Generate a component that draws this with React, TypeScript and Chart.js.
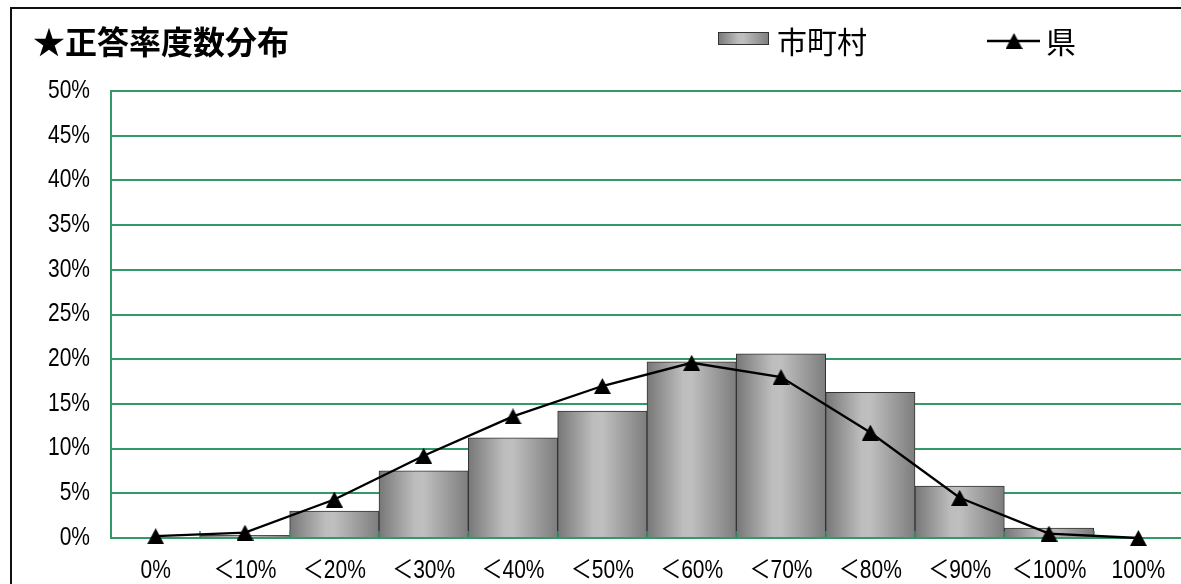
import React, { useEffect, useRef } from "react";
import { Chart, registerables } from "chart.js";

Chart.register(...registerables);

// 正答率の区分
const categories = [
  "0%", "＜10%", "＜20%", "＜30%", "＜40%", "＜50%",
  "＜60%", "＜70%", "＜80%", "＜90%", "＜100%", "100%",
];

// 市町村の分布（%）
const cityValues = [0, 0.3, 3.0, 7.5, 11.2, 14.2, 19.7, 20.6, 16.3, 5.8, 1.1, 0];

// 県の分布（%）
const prefValues = [0.2, 0.6, 4.3, 9.2, 13.6, 17.0, 19.6, 18.0, 11.8, 4.5, 0.5, 0.0];

// 縦軸の目盛り（%）
const yMin = 0;
const yMax = 50;
const yStep = 5;

const titleText = "★正答率度数分布";
const cityLabel = "市町村";
const prefLabel = "県";

const GREEN = "#339966";
const LABEL_FONT = "25px 'Liberation Sans', 'Noto Sans CJK JP', sans-serif";
const NARROW = 0.84; // 目盛りラベルの横幅（細字体風）
const CJK_FONT = "'Noto Sans CJK JP', sans-serif";

function barGradient(c: CanvasRenderingContext2D, x0: number, x1: number) {
  const g = c.createLinearGradient(x0, 0, x1, 0);
  g.addColorStop(0, "#777777");
  g.addColorStop(0.4, "#bdbdbd");
  g.addColorStop(0.5, "#bfbfbf");
  g.addColorStop(1, "#7d7d7d");
  return g;
}

function makeTriangle(w: number, h: number) {
  const cv = document.createElement("canvas");
  cv.width = w;
  cv.height = h;
  const c = cv.getContext("2d")!;
  c.fillStyle = "#000";
  c.beginPath();
  c.moveTo(w / 2, 0);
  c.lineTo(w, h);
  c.lineTo(0, h);
  c.closePath();
  c.fill();
  return cv;
}

function narrowText(
  ctx: CanvasRenderingContext2D,
  text: string,
  x: number,
  y: number,
  align: CanvasTextAlign
) {
  ctx.save();
  ctx.translate(x, y);
  ctx.scale(NARROW, 1);
  ctx.textAlign = align;
  ctx.textBaseline = "middle";
  ctx.fillText(text, 0, 0);
  ctx.restore();
}

export default function App() {
  const canvasRef = useRef<HTMLCanvasElement | null>(null);

  useEffect(() => {
    const canvas = canvasRef.current;
    if (!canvas) return;
    const tri = makeTriangle(17, 16);

    // 軸の線と内向きの目盛りを棒の上に描く
    const baselinePlugin = {
      id: "baseline",
      afterDatasetDraw(chart: any, args: any) {
        if (args.meta.type !== "bar") return;
        const { ctx, chartArea } = chart;
        const xs = chart.scales.x;
        const ys = chart.scales.y;
        const y0 = ys.getPixelForValue(0);
        const half = (xs.getPixelForValue(1) - xs.getPixelForValue(0)) / 2;
        ctx.save();
        ctx.strokeStyle = GREEN;
        ctx.lineWidth = 2;
        ctx.beginPath();
        ctx.moveTo(chartArea.left, y0);
        ctx.lineTo(chartArea.right + 20, y0);
        ctx.stroke();
        ctx.lineWidth = 1.5;
        for (let i = 1; i < categories.length; i++) {
          const bx = Math.round(xs.getPixelForValue(i) - half);
          ctx.beginPath();
          ctx.moveTo(bx, y0);
          ctx.lineTo(bx, y0 - 7);
          ctx.stroke();
        }
        ctx.restore();
      },
    };

    // 目盛りラベル（縦横とも軸の目盛りから）
    const tickLabelPlugin = {
      id: "tickLabels",
      afterDraw(chart: any) {
        const ctx: CanvasRenderingContext2D = chart.ctx;
        const xs = chart.scales.x;
        const ys = chart.scales.y;
        ctx.save();
        ctx.fillStyle = "#000";
        ctx.font = LABEL_FONT;
        ys.ticks.forEach((t: any) => {
          narrowText(ctx, `${t.value}%`, ys.right - 21, ys.getPixelForValue(t.value), "right");
        });
        xs.ticks.forEach((t: any) => {
          narrowText(ctx, xs.getLabelForValue(t.value), xs.getPixelForValue(t.value), xs.top + 33, "center");
        });
        ctx.restore();
      },
    };

    // タイトルと凡例
    const headerPlugin = {
      id: "header",
      afterDraw(chart: any) {
        const ctx: CanvasRenderingContext2D = chart.ctx;
        ctx.save();
        ctx.fillStyle = "#000";
        ctx.textBaseline = "middle";
        ctx.textAlign = "left";
        ctx.font = `bold 32px ${CJK_FONT}`;
        ctx.fillText(titleText, 33, 42);

        // 市町村
        const bx = 718, by = 32, bw = 51, bh = 13;
        ctx.fillStyle = barGradient(ctx, bx, bx + bw);
        ctx.fillRect(bx, by, bw, bh);
        ctx.strokeStyle = "#333";
        ctx.lineWidth = 1;
        ctx.strokeRect(bx + 0.5, by + 0.5, bw - 1, bh - 1);
        ctx.fillStyle = "#000";
        ctx.font = `30px ${CJK_FONT}`;
        ctx.fillText(chart.data.datasets[0].label, 777, 42);

        // 県
        ctx.strokeStyle = "#000";
        ctx.lineWidth = 2.3;
        ctx.beginPath();
        ctx.moveTo(987, 41);
        ctx.lineTo(1040, 41);
        ctx.stroke();
        ctx.drawImage(tri, 1014 - 8.5, 41 - 8);
        ctx.fillText(chart.data.datasets[1].label, 1046, 42);
        ctx.restore();
      },
    };

    const chart = new Chart(canvas, {
      type: "bar",
      data: {
        labels: categories,
        datasets: [
          {
            type: "bar",
            label: cityLabel,
            data: cityValues,
            order: 1,
            barPercentage: 1,
            categoryPercentage: 1,
            borderColor: "#333333",
            borderWidth: 1,
            borderSkipped: "bottom",
            backgroundColor: (c: any) => {
              const ch = c.chart;
              if (!ch.chartArea || c.dataIndex === undefined) return "#aaaaaa";
              const xs = ch.scales.x;
              const cx = xs.getPixelForValue(c.dataIndex);
              const half = (xs.getPixelForValue(1) - xs.getPixelForValue(0)) / 2;
              return barGradient(ch.ctx, cx - half, cx + half);
            },
          } as any,
          {
            type: "line",
            label: prefLabel,
            data: prefValues,
            order: 0,
            borderColor: "#000000",
            borderWidth: 2.3,
            pointStyle: tri,
            pointRadius: 8,
            pointHoverRadius: 8,
            tension: 0,
            clip: false,
          } as any,
        ],
      },
      options: {
        responsive: false,
        animation: false,
        devicePixelRatio: 1,
        events: [],
        layout: { padding: { top: 91, left: 0, right: 17, bottom: 0 } },
        plugins: {
          legend: { display: false },
          title: { display: false },
          tooltip: { enabled: false },
        },
        scales: {
          x: {
            offset: true,
            grid: { display: false, drawOnChartArea: false, drawTicks: false },
            border: { display: true, color: GREEN, width: 2 },
            ticks: { display: false, autoSkip: false },
            afterFit: (s: any) => {
              s.height = 46;
            },
          },
          y: {
            min: yMin,
            max: yMax,
            grid: { color: GREEN, lineWidth: 2, drawTicks: false },
            border: { display: true, color: GREEN, width: 2 },
            ticks: { display: false, stepSize: yStep },
            afterFit: (s: any) => {
              s.width = 111;
            },
          },
        },
      },
      plugins: [baselinePlugin, tickLabelPlugin, headerPlugin],
    });

    return () => chart.destroy();
  }, []);

  return (
    <div
      style={{
        position: "fixed",
        left: 0,
        top: 0,
        width: 1181,
        height: 584,
        overflow: "hidden",
        background: "#fff",
      }}
    >
      <canvas ref={canvasRef} width={1200} height={584} style={{ display: "block" }} />
      <div
        style={{
          position: "absolute",
          left: 10,
          top: 7,
          width: 1200,
          height: 600,
          borderLeft: "2px solid #111",
          borderTop: "2px solid #111",
          pointerEvents: "none",
        }}
      />
    </div>
  );
}
